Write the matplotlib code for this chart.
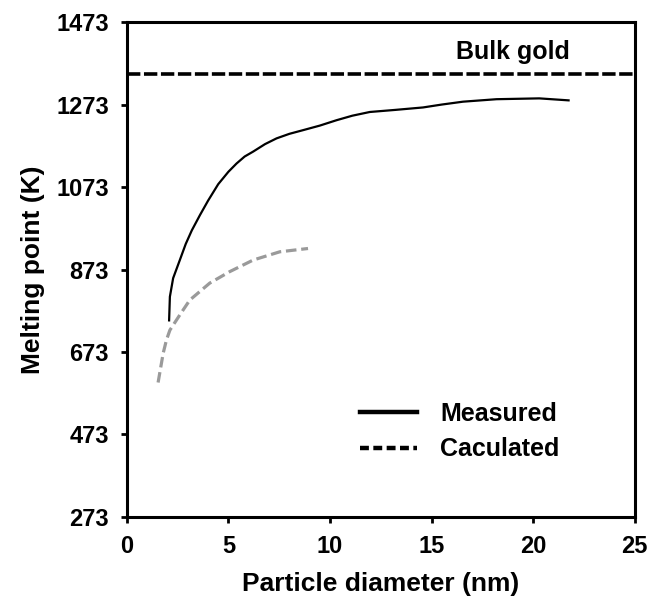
import matplotlib
matplotlib.use("Agg")
import matplotlib.pyplot as plt
from matplotlib.lines import Line2D

plt.rcParams['font.family'] = ['Liberation Sans', 'DejaVu Sans']
plt.rcParams['font.weight'] = 'bold'
plt.rcParams['axes.labelweight'] = 'bold'

# Measured melting point of gold particles
measured_d = [2.08, 2.12, 2.28, 2.61, 2.9, 3.2, 3.6, 4.0, 4.5, 5.0, 5.4, 5.8,
              6.22, 6.8, 7.37, 8.0, 8.68, 9.5, 10.32, 11.1, 11.96, 13.2,
              14.58, 15.5, 16.55, 18.2, 20.3, 21.8]
measured_t = [747, 807, 852, 896, 935, 968, 1005, 1040, 1080, 1110, 1130, 1147,
              1159, 1177, 1191, 1202, 1211, 1222, 1235, 1246, 1255, 1260,
              1266, 1273, 1280, 1286, 1288, 1283]

# Calculated curve
calc_d = [1.54, 1.79, 1.95, 2.12, 2.61, 3.10, 4.08, 5.07, 6.22, 7.53, 8.92]
calc_t = [599, 670, 702, 726, 763, 799, 840, 868, 896, 916, 924]

bulk_gold = 1348

xticks = [0, 5, 10, 15, 20, 25]
yticks = [273, 473, 673, 873, 1073, 1273, 1473]

fig = plt.figure(figsize=(6.47, 6.05), dpi=100)
ax = fig.add_axes([0.196, 0.1455, 0.785, 0.818])

ax.plot(measured_d, measured_t, color='black', lw=1.6, solid_capstyle='butt')
ax.plot(calc_d, calc_t, color='#9a9a9a', lw=2.3, dashes=(3.3, 1.5))
ax.axhline(bulk_gold, color='black', lw=2.6, dashes=(3.7, 1.0))
ax.text(19.0, 1400, 'Bulk gold', ha='center', va='center', fontsize=18)

ax.set_xlim(0, 25)
ax.set_ylim(273, 1473)
ax.set_xticks(xticks)
ax.set_yticks(yticks)
ax.tick_params(direction='out', length=4, width=2, labelsize=17, pad=9)

for spine in ax.spines.values():
    spine.set_linewidth(2.2)

ax.set_xlabel('Particle diameter (nm)', fontsize=19, labelpad=10)
ax.set_ylabel('Melting point (K)', fontsize=19, labelpad=8)

handles = [Line2D([], [], color='black', lw=3.2),
           Line2D([], [], color='black', lw=3.2, dashes=(2.0, 1.0))]
ax.legend(handles, ['Measured', 'Caculated'], loc='upper left',
          bbox_to_anchor=(0.459, 0.233), frameon=False, fontsize=18,
          handlelength=2.3, handletextpad=0.9, labelspacing=0.47, borderpad=0,
          borderaxespad=0)

fig.savefig('out.png', dpi=100)
